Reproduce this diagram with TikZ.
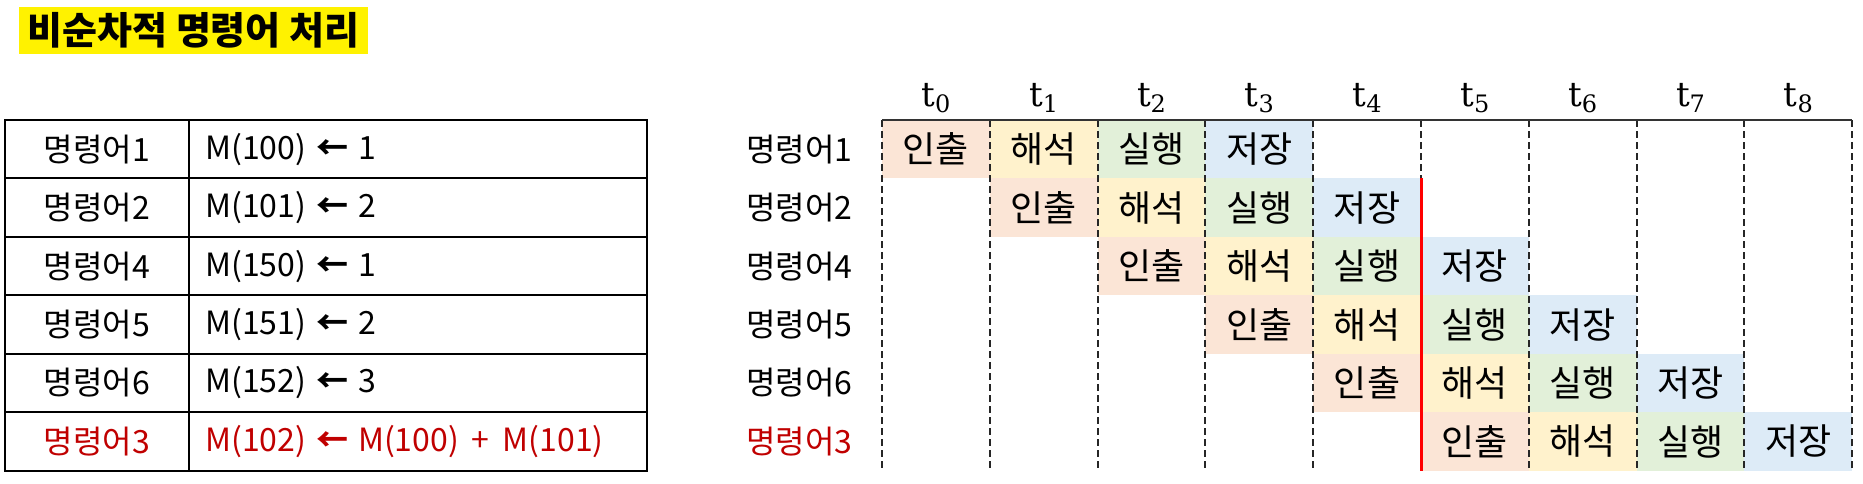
\documentclass[tikz,border=0pt]{standalone}
\usepackage{fontspec}
\setmainfont{Noto Sans CJK KR}
\newfontfamily\tserif{DejaVu Serif}
\definecolor{cfetch}{HTML}{FBE5D6}
\definecolor{cdecode}{HTML}{FFF2CC}
\definecolor{cexec}{HTML}{E2F0D9}
\definecolor{cstore}{HTML}{DDEBF7}
\definecolor{dred}{HTML}{C00000}
\definecolor{topgray}{HTML}{333333}
\newcommand{\tlab}[1]{{\tserif t\raisebox{-6pt}{\fontsize{24}{24}\selectfont #1}}}
\newcommand{\larr}{\hspace{10pt}{\bfseries ←}\hspace{10pt}}
\newcommand{\plusop}{\hspace{13pt}+\hspace{13pt}}
\begin{document}
\begin{tikzpicture}[x=1pt,y=-1pt,
  titlebox/.style={fill=yellow, inner sep=0pt, minimum width=349pt, minimum height=47pt,
    font=\fontsize{38}{42}\selectfont\bfseries},
  tabtext/.style={inner sep=0pt, font=\fontsize{32}{38}\selectfont},
  rowlab/.style={inner sep=0pt, anchor=west, font=\fontsize{32}{38}\selectfont},
  celltext/.style={inner sep=0pt, minimum width=107.8pt, minimum height=58.45pt,
    font=\fontsize{36}{42}\selectfont},
  tlabel/.style={inner sep=0pt, anchor=base, font=\fontsize{34}{40}\selectfont},
  tabline/.style={draw=black, line width=2pt},
  dashline/.style={draw=black!85, line width=2pt, dash pattern=on 7pt off 4pt},
  redline/.style={draw=red, line width=3pt},
  topline/.style={draw=topgray, line width=2.5pt}
]
\useasboundingbox (0,0) rectangle (1863,483);

% title
\node[titlebox] (title) at (193.5,30.5) {비순차적 명령어 처리};

% table
\def\rh{58.45}
\foreach \i/\lab/\expr/\col in {
  0/명령어1/{M(100)\larr 1}/black,
  1/명령어2/{M(101)\larr 2}/black,
  2/명령어4/{M(150)\larr 1}/black,
  3/명령어5/{M(151)\larr 2}/black,
  4/명령어6/{M(152)\larr 3}/black,
  5/명령어3/{M(102)\larr M(100)\plusop M(101)}/dred}{
  \node[tabtext, text=\col] (tname\i) at (97,{120+\rh*(\i+0.5)}) {\lab};
  \node[tabtext, text=\col, anchor=west] (texpr\i) at (205,{120+\rh*(\i+0.5)}) {\expr};
  \node[rowlab, text=\col] (rlab\i) at (746,{120+\rh*(\i+0.5)}) {\lab};
}
\draw[tabline] (5,120) rectangle (647,470.7);
\foreach \i in {1,...,5}{
  \draw[tabline] (5,{120+\rh*\i}) -- (647,{120+\rh*\i});
}
\draw[tabline] (189,120) -- (189,470.7);

% grid cells
\def\cw{107.8}
\foreach \r in {0,...,5}{
  \foreach \k/\txt/\cc in {0/인출/cfetch,1/해석/cdecode,2/실행/cexec,3/저장/cstore}{
    \pgfmathtruncatemacro{\c}{\r+\k}
    \node[celltext, fill=\cc] (cell\r\k) at ({882+\cw*(\c+0.5)},{120+\rh*(\r+0.5)}) {\txt};
  }
}

% time labels
\foreach \c in {0,...,8}{
  \node[tlabel] (t\c) at ({882+\cw*(\c+0.5)},106.7) {\tlab{\c}};
}

% grid lines
\foreach \c in {0,...,9}{
  \coordinate (gt\c) at ({882+\cw*\c},120);
  \coordinate (gb\c) at ({882+\cw*\c},470.7);
  \coordinate (gm\c) at ({882+\cw*\c},{120+\rh});
}
\foreach \c in {0,1,2,3,4,6,7,8,9}{
  \draw[dashline] (gt\c) -- (gb\c);
}
\draw[dashline] (gt5) -- (gm5);
\draw[redline] (gm5) -- (gb5);
\draw[topline] (gt0) -- (gt9);
\end{tikzpicture}
\end{document}
